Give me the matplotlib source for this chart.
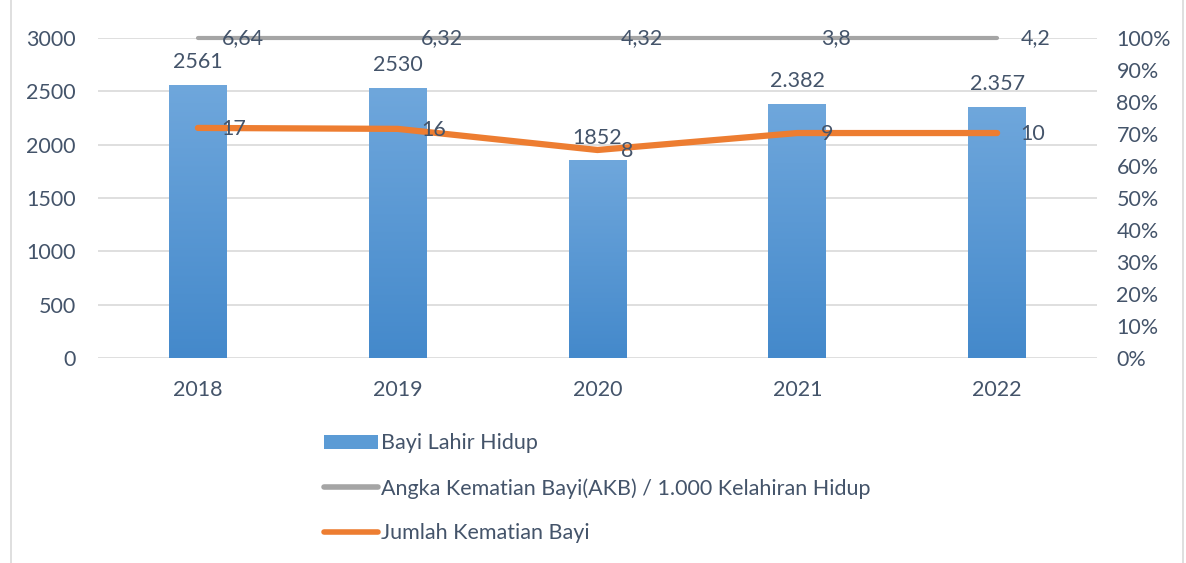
import numpy as np
import matplotlib.pyplot as plt
from matplotlib.lines import Line2D
from matplotlib.patches import Patch
from matplotlib.colors import LinearSegmentedColormap

plt.rcParams['font.family'] = ['Lato', 'DejaVu Sans']

years = ['2018', '2019', '2020', '2021', '2022']
lahir_hidup = [2561, 2530, 1852, 2382, 2357]
lahir_labels = ['2561', '2530', '1852', '2.382', '2.357']
akb_labels = ['6,64', '6,32', '4,32', '3,8', '4,2']
akb_pos = [100, 100, 100, 100, 100]          # line sits at the top of the % axis
kematian_labels = ['17', '16', '8', '9', '10']
kematian_pos = [71.9, 71.6, 65.0, 70.3, 70.3]  # position read on the % axis

TXT = '#44546a'
GRID = '#d9d9d9'
FS = 15.5

fig = plt.figure(figsize=(11.86, 5.63), dpi=100)
W, H = 1186, 563
ax = fig.add_axes([98 / W, (H - 358) / H, 999 / W, 320 / H])
ax2 = ax.twinx()

x = np.arange(len(years))
bars = ax.bar(x, lahir_hidup, width=0.29, color='#5b9bd5', zorder=2)

# vertical gradient on bars
grad = np.linspace(0, 1, 256).reshape(-1, 1)
cmap = LinearSegmentedColormap.from_list('g', ['#4489cb', '#6fa7dc'])
for b in bars:
    x0, y0 = b.get_x(), b.get_y()
    im = ax.imshow(grad, cmap=cmap, aspect='auto', origin='lower',
                   extent=[x0, x0 + b.get_width(), y0, y0 + b.get_height()], zorder=2)
    im.set_clip_path(b)

for i, v in enumerate(lahir_hidup):
    ax.annotate(lahir_labels[i], (x[i], v), xytext=(0, 16.5), textcoords='offset points',
                ha='center', va='center', fontsize=FS, color=TXT)

ax.set_xlim(-0.5, 4.5)
ax.set_ylim(0, 3000)
ax.set_yticks(range(0, 3001, 500))
ax.set_xticks(x)
ax.set_xticklabels(years)
ax.yaxis.grid(True, color=GRID, linewidth=1.2, zorder=0)
ax.set_axisbelow(True)
for s in ax.spines.values():
    s.set_visible(False)
for s in ax2.spines.values():
    s.set_visible(False)
ax.tick_params(length=0, labelsize=FS, colors=TXT)
ax.tick_params(axis='y', pad=16)
ax.tick_params(axis='x', pad=16)

ax2.plot(x, akb_pos, color='#a5a5a5', linewidth=3, solid_capstyle='round', zorder=3, clip_on=False)
ax2.plot(x, kematian_pos, color='#ed7d31', linewidth=4.5, solid_capstyle='round', zorder=3)
for i in range(len(years)):
    ax2.annotate(akb_labels[i], (x[i], akb_pos[i]), xytext=(17, 0), textcoords='offset points',
                 ha='left', va='center', fontsize=FS, color=TXT, zorder=4)
    ax2.annotate(kematian_labels[i], (x[i], kematian_pos[i]), xytext=(17, -1), textcoords='offset points',
                 ha='left', va='center', fontsize=FS, color=TXT, zorder=4)
ax2.set_ylim(0, 100)
ax2.set_yticks(range(0, 101, 10))
ax2.set_yticklabels([f'{v}%' for v in range(0, 101, 10)])
ax2.tick_params(length=0, labelsize=FS, colors=TXT, pad=14)

handles = [Patch(facecolor='#5b9bd5', edgecolor='none'),
           Line2D([], [], color='#a5a5a5', linewidth=4, solid_capstyle='round'),
           Line2D([], [], color='#ed7d31', linewidth=4, solid_capstyle='round')]
labels = ['Bayi Lahir Hidup', 'Angka Kematian Bayi(AKB) / 1.000 Kelahiran Hidup', 'Jumlah Kematian Bayi']
fig.legend(handles, labels, loc='upper left', bbox_to_anchor=(305 / W, 1 - 414 / H),
           frameon=False, fontsize=FS, labelcolor=TXT, handlelength=2.5,
           handleheight=0.65, handletextpad=0.15, labelspacing=1.15)

for xp in (11, 1183):
    fig.add_artist(Line2D([xp / W, xp / W], [0, 1], color=GRID, linewidth=1.2))

fig.savefig('out.png', dpi=100)
